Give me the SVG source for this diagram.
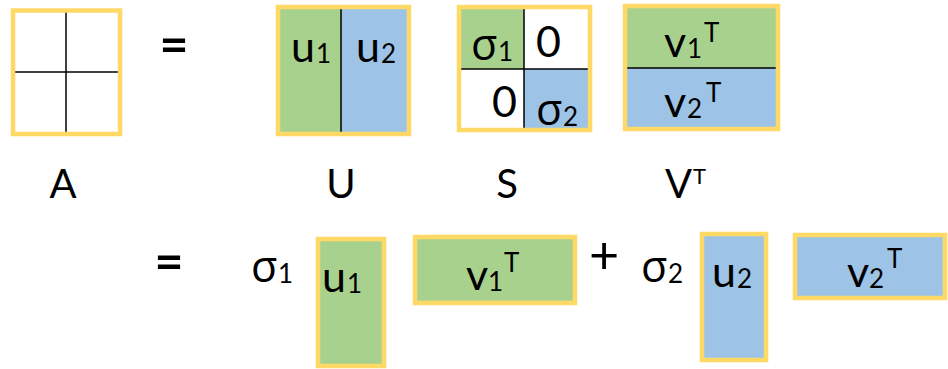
<svg xmlns="http://www.w3.org/2000/svg" width="948" height="369" viewBox="0 0 948 369">
<style>
.y{fill:none;stroke:#FFD966;stroke-width:4.5}
.g{fill:#A9D18E}
.b{fill:#9DC3E6}
.ln{stroke:#000;stroke-width:1.5}
text{font-family:Lato,"Open Sans",sans-serif;fill:#000}
.gr{font-family:"Open Sans","Noto Sans",sans-serif}
.m{font-size:43px}
.s{font-size:26px}
.op{font-size:50px;font-weight:bold}
.pl{font-size:52px}
.lab{font-size:40px}
.sup{font-size:22px}
</style>
<rect width="948" height="369" fill="#fff"/>
<g id="matA">
<line class="ln" x1="66" y1="12" x2="66" y2="132"/>
<line class="ln" x1="15" y1="72" x2="118" y2="72"/>
<rect class="y" x="13" y="10.5" width="107" height="123.5"/>
</g>
<g id="eq1"><text class="op" x="174" y="62" text-anchor="middle">=</text></g>
<g id="matU">
<rect class="g" x="278" y="7" width="63" height="127"/>
<rect class="b" x="341" y="7" width="68" height="127"/>
<line class="ln" x1="341" y1="9" x2="341" y2="132"/>
<rect class="y" x="278" y="7" width="131" height="127"/>
<text class="m" x="291" y="62">u</text><text class="s" x="316" y="63">1</text>
<text class="m" x="356" y="62">u</text><text class="s" x="381" y="63">2</text>
</g>
<g id="matS">
<rect class="g" x="459" y="7" width="65" height="62"/>
<rect class="b" x="524" y="69" width="66" height="61"/>
<line class="ln" x1="524" y1="9" x2="524" y2="128"/>
<line class="ln" x1="461" y1="69" x2="588" y2="69"/>
<rect class="y" x="459" y="7" width="131" height="123"/>
<text class="m gr" x="471" y="60">σ</text><text class="s" x="498" y="61">1</text>
<text class="m" x="536" y="57">0</text>
<text class="m" x="492" y="117">0</text>
<text class="m gr" x="536" y="125">σ</text><text class="s" x="563" y="126">2</text>
</g>
<g id="matVT">
<rect class="g" x="625" y="6" width="153" height="62"/>
<rect class="b" x="625" y="68" width="153" height="61"/>
<line class="ln" x1="627" y1="68" x2="776" y2="68"/>
<rect class="y" x="625" y="6" width="153" height="123"/>
<text class="m" x="664" y="57">v</text><text class="s" x="687" y="58">1</text><text class="s" x="704" y="42">T</text>
<text class="m" x="664" y="117">v</text><text class="s" x="687" y="118">2</text><text class="s" x="706" y="102">T</text>
</g>
<g id="labels">
<text class="lab" x="63" y="198" text-anchor="middle">A</text>
<text class="lab" x="341" y="198" text-anchor="middle">U</text>
<text class="lab" x="507" y="198" text-anchor="middle">S</text>
<text class="lab" x="665" y="198">V</text><text class="sup" x="693" y="184">T</text>
</g>
<g id="eq2"><text class="op" x="169" y="279" text-anchor="middle">=</text></g>
<g id="sigma1"><text class="m gr" x="251" y="282">σ</text><text class="s" x="278" y="283">1</text></g>
<g id="u1col">
<rect class="g" x="318" y="239" width="66" height="127"/>
<rect class="y" x="318" y="239" width="66" height="127"/>
<text class="m" x="322" y="292">u</text><text class="s" x="347" y="293">1</text>
</g>
<g id="v1row">
<rect class="g" x="415" y="237" width="160" height="66"/>
<rect class="y" x="415" y="237" width="160" height="66"/>
<text class="m" x="466" y="290">v</text><text class="s" x="488" y="291">1</text><text class="s" x="504" y="272">T</text>
</g>
<g id="plus"><text class="pl" x="604" y="274" text-anchor="middle">+</text></g>
<g id="sigma2"><text class="m gr" x="641" y="282">σ</text><text class="s" x="668" y="283">2</text></g>
<g id="u2col">
<rect class="b" x="702" y="234" width="64" height="126"/>
<rect class="y" x="702" y="234" width="64" height="126"/>
<text class="m" x="712" y="287">u</text><text class="s" x="737" y="288">2</text>
</g>
<g id="v2row">
<rect class="b" x="795" y="235" width="150" height="63"/>
<rect class="y" x="795" y="235" width="150" height="63"/>
<text class="m" x="847" y="287">v</text><text class="s" x="869" y="288">2</text><text class="s" x="887" y="268">T</text>
</g>
</svg>
